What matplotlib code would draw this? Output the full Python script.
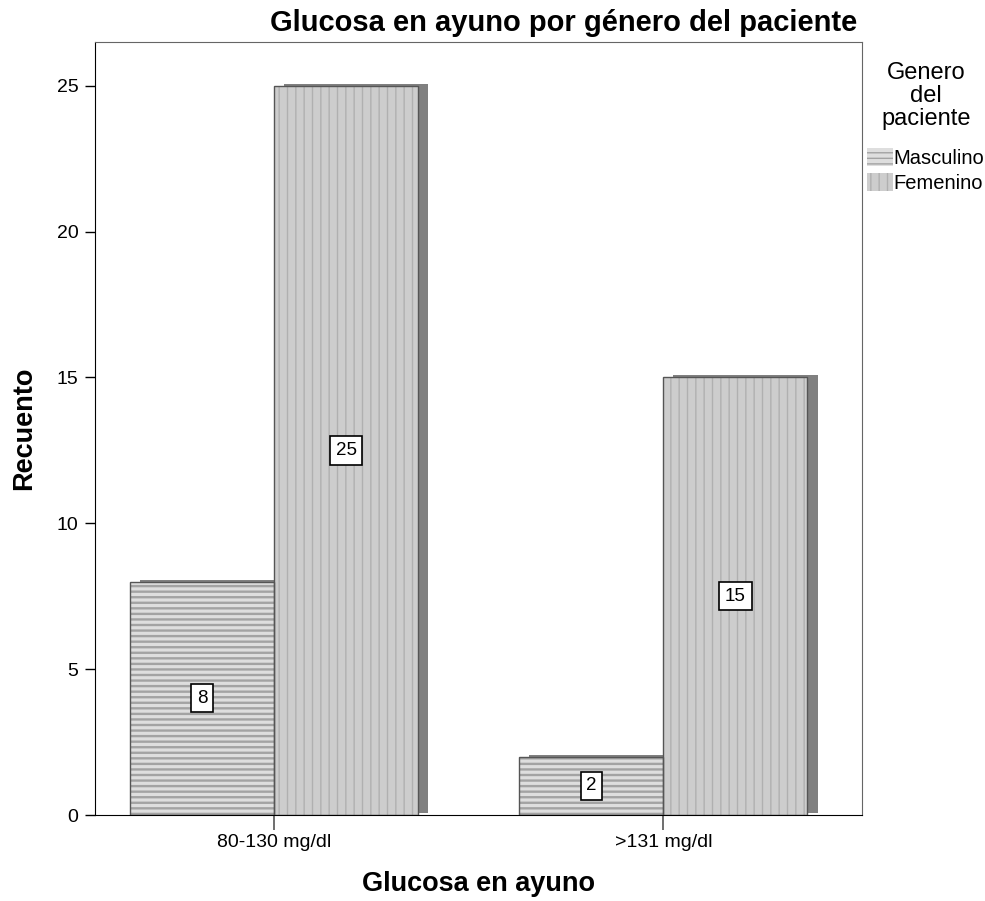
import matplotlib
matplotlib.use("Agg")
import matplotlib.pyplot as plt
import numpy as np

plt.rcParams['font.family'] = ['Liberation Sans', 'DejaVu Sans']

categories = ["80-130 mg/dl", ">131 mg/dl"]
series_names = ["Masculino", "Femenino"]
masculino = [8, 2]
femenino = [25, 15]
yticks = [0, 5, 10, 15, 20, 25]

fig = plt.figure(figsize=(9.85, 9.01), dpi=100)
ax = fig.add_axes([95/985, 1-815/901, (862-95)/985, (815-42)/901])

x = np.arange(len(categories))
w = 0.37
shadow_dx = 10/389
shadow_dy = 2/29.16

styles = [
    dict(fc="#dedede", hatch_color="#a3a3a3", hatch="---", hlw=1.7),
    dict(fc="#cdcdcd", hatch_color="#b0b0b0", hatch="||", hlw=1.0),
]
for si, vals in enumerate([masculino, femenino]):
    st = styles[si]
    offs = -w/2 if si == 0 else w/2
    ax.bar(x + offs + shadow_dx, vals, width=w, bottom=shadow_dy,
           color="#808080", edgecolor="none", zorder=1)
    with plt.rc_context({'hatch.linewidth': st["hlw"]}):
        ax.bar(x + offs, vals, width=w, facecolor=st["fc"],
               edgecolor=st["hatch_color"], hatch=st["hatch"], linewidth=0,
               zorder=2, label=series_names[si])
    ax.bar(x + offs, vals, width=w, facecolor="none", edgecolor="#555555",
           linewidth=1.0, zorder=3)
    for xi, v in zip(x + offs, vals):
        ax.text(xi, v/2, str(v), ha="center", va="center", fontsize=13.5,
                zorder=5,
                bbox=dict(boxstyle="square,pad=0.3", fc="white", ec="black", lw=1.2))

ax.set_xlim(-0.46, 1.51)
ax.set_ylim(0, 26.5)
ax.set_yticks(yticks)
ax.set_yticklabels([str(t) for t in yticks], fontsize=14)
ax.set_xticks(x)
ax.set_xticklabels(categories, fontsize=14)
ax.tick_params(axis='x', length=11, width=1.2, pad=3, color="#555555")
ax.tick_params(axis='y', length=7, width=1, pad=5)
for s in ["top", "right"]:
    ax.spines[s].set_color("#666666")
for s in ["left", "bottom"]:
    ax.spines[s].set_color("black")

ax.set_ylabel("Recuento", fontsize=19.5, fontweight="bold", labelpad=14)
ax.set_xlabel("Glucosa en ayuno", fontsize=19.5, fontweight="bold", labelpad=14)

fig.text(564/985, 1-23/901, "Glucosa en ayuno por género del paciente",
         ha="center", va="center", fontsize=21, fontweight="bold")

fig.text(926/985, 1-96/901, "Genero\ndel\npaciente", ha="center", va="center",
         multialignment="center", fontsize=17, linespacing=1.08)

leg = fig.legend(loc="upper left",
                 bbox_to_anchor=(867/985, 1-148/901), frameon=False,
                 fontsize=14.5, handlelength=1.3,
                 handleheight=1.0, handletextpad=0.0, borderaxespad=0.0,
                 labelspacing=0.25, borderpad=0.0)

fig.savefig("out.png", dpi=100)
